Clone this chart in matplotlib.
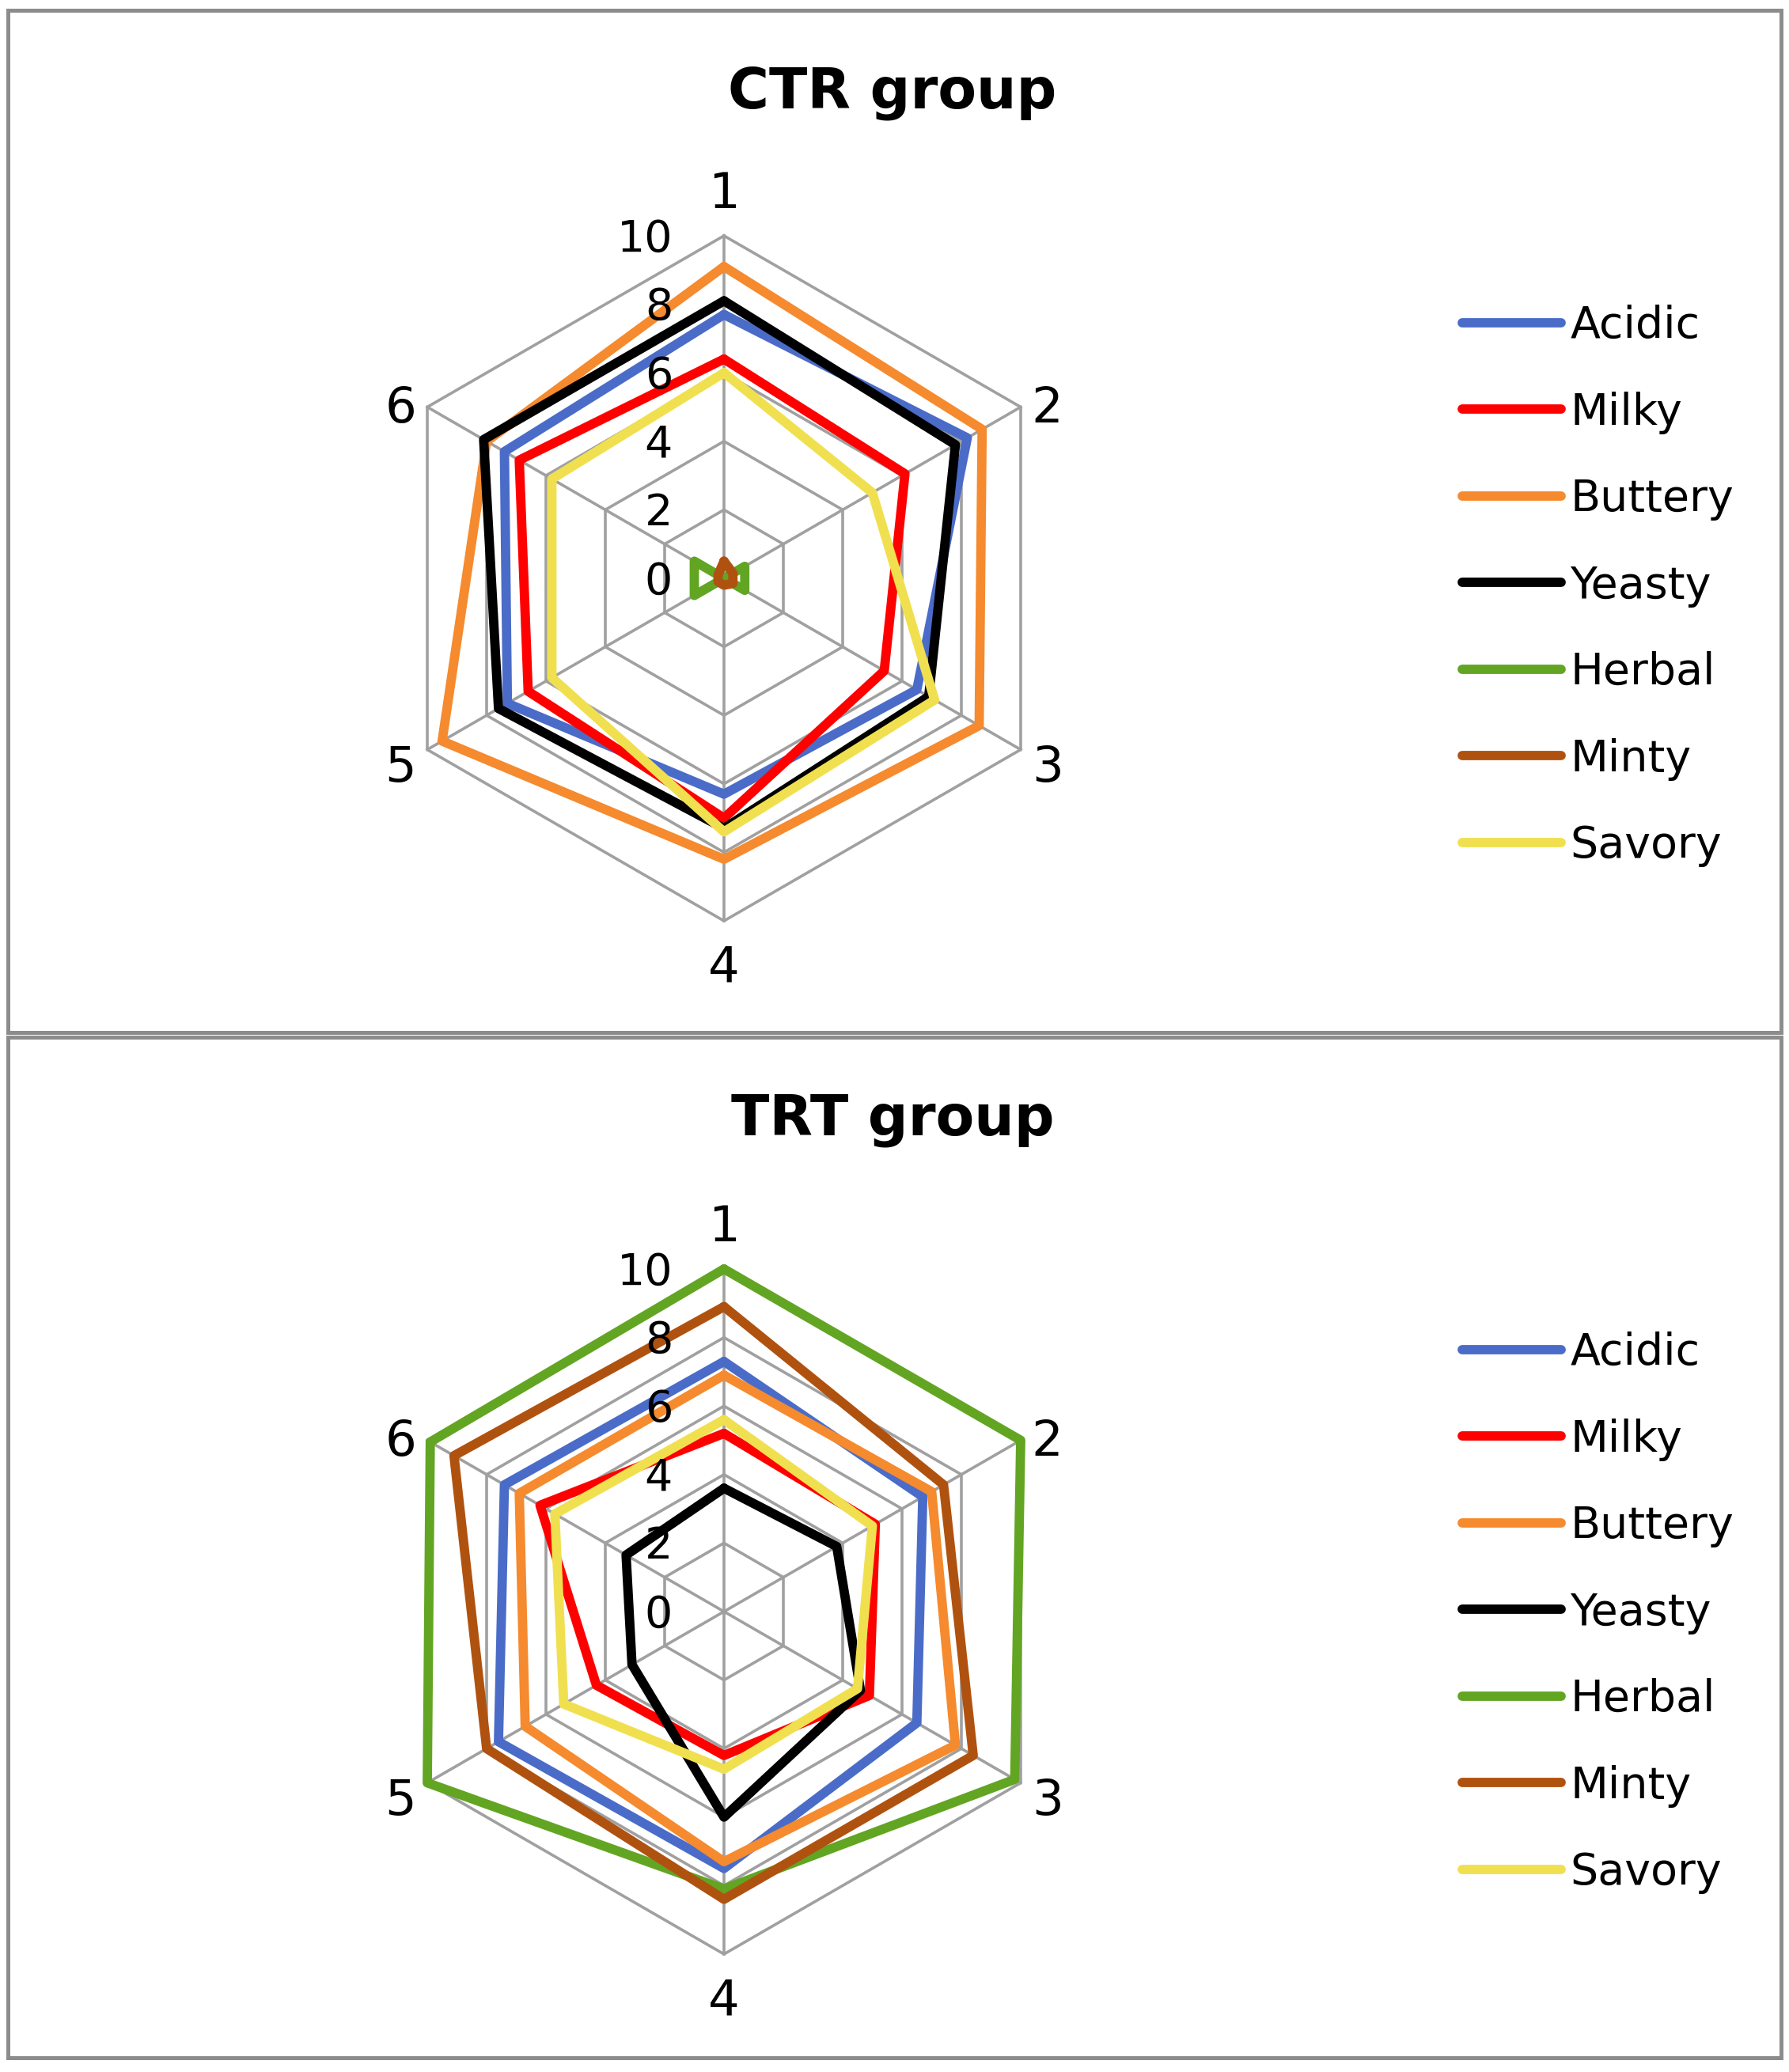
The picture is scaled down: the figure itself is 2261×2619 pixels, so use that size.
import numpy as np
import matplotlib
matplotlib.use('Agg')
import matplotlib.pyplot as plt
from matplotlib.patches import Rectangle

plt.rcParams['font.family'] = ['DejaVu Sans']

# 資料
axis_labels = ['1', '2', '3', '4', '5', '6']
series_names = ['Acidic', 'Milky', 'Buttery', 'Yeasty', 'Herbal', 'Minty', 'Savory']
series_colors = ['#4a6cc8', '#ff0000', '#f58a2e', '#000000', '#62a522', '#b0520f', '#f0e050']
r_ticks = [0, 2, 4, 6, 8, 10]

ctr_acidic = [7.7, 8.2, 6.5, 6.3, 7.3, 7.4]
ctr_milky = [6.4, 6.1, 5.4, 7.0, 6.6, 6.9]
ctr_buttery = [9.1, 8.7, 8.6, 8.2, 9.5, 8.0]
ctr_yeasty = [8.1, 7.8, 6.9, 7.3, 7.6, 8.1]
ctr_herbal = [0.0, 0.7, 0.7, 0.0, 1.0, 1.0]
ctr_minty = [0.5, 0.3, 0.3, 0.2, 0.2, 0.2]
ctr_savory = [6.0, 5.0, 7.1, 7.4, 5.8, 5.8]

trt_acidic = [7.3, 6.7, 6.5, 7.5, 7.6, 7.4]
trt_milky = [5.2, 5.1, 4.9, 4.2, 4.3, 6.2]
trt_buttery = [6.9, 7.0, 7.8, 7.3, 6.7, 6.9]
trt_yeasty = [3.6, 3.8, 4.6, 6.0, 3.1, 3.3]
trt_herbal = [10.0, 10.0, 9.8, 8.1, 10.0, 9.9]
trt_minty = [8.9, 7.4, 8.4, 8.4, 8.0, 9.1]
trt_savory = [5.6, 5.0, 4.5, 4.6, 5.4, 5.7]

groups = [
    ('CTR group', [ctr_acidic, ctr_milky, ctr_buttery, ctr_yeasty, ctr_herbal, ctr_minty, ctr_savory]),
    ('TRT group', [trt_acidic, trt_milky, trt_buttery, trt_yeasty, trt_herbal, trt_minty, trt_savory]),
]

W, H = 2261, 2619
fig = plt.figure(figsize=(W / 100, H / 100), dpi=100)

n = len(axis_labels)
ang = np.arange(n) * 2 * np.pi / n  # 由上方順時針


def xy(vals):
    v = np.asarray(vals, dtype=float)
    v = np.append(v, v[0])
    a = np.append(ang, ang[0])
    return v * np.sin(a), v * np.cos(a)


# 每個面板: 中心 (px), 半徑 433px = 10
centers_y = [731, 2037]
panel_top = [13, 1311]
panel_bot = [1305, 2601]
lim = 12.5
unit = 43.3
size_px = 2 * lim * unit

for k, (title, data) in enumerate(groups):
    cx, cy = 915, centers_y[k]
    ax = fig.add_axes([(cx - size_px / 2) / W, 1 - (cy + size_px / 2) / H, size_px / W, size_px / H])
    ax.set_xlim(-lim, lim)
    ax.set_ylim(-lim, lim)
    ax.axis('off')

    # 格線
    for r in r_ticks[1:]:
        gx, gy = xy([r] * n)
        ax.plot(gx, gy, color='#a0a0a0', lw=2.6, zorder=1)
    for a in ang:
        ax.plot([0, 10 * np.sin(a)], [0, 10 * np.cos(a)], color='#a0a0a0', lw=2.6, zorder=1)

    # 數列
    for name, vals, c in zip(series_names, data, series_colors):
        sx, sy = xy(vals)
        ax.plot(sx, sy, color=c, lw=8.5, solid_joinstyle='round', solid_capstyle='round',
                label=name, zorder=3)

    # 刻度標籤
    for r in r_ticks:
        ax.text(-1.5, r - 0.1, str(r), ha='right', va='center', fontsize=40, zorder=4)

    # 軸標籤
    for i, (a, lab) in enumerate(zip(ang, axis_labels)):
        if abs(np.cos(a)) > 0.99:
            lx, ly = 0, (11.2 if np.cos(a) > 0 else -11.4)
        else:
            lx, ly = 10.9 * np.sin(a), 10.5 * np.cos(a) - 0.3
        ax.text(lx, ly, lab, ha='center', va='center', fontsize=45)

    fig.text(1128 / W, 1 - (panel_top[k] + 124) / H, title, ha='center', va='baseline',
             fontsize=51, fontweight='bold')

    leg_top = panel_top[k] + 372
    ax.legend(loc='upper left', bbox_to_anchor=(1848 / W, 1 - leg_top / H),
              bbox_transform=fig.transFigure, frameon=False, fontsize=40,
              handlelength=2.25, handletextpad=0.2, labelspacing=1.0,
              borderpad=0, borderaxespad=0)

    fig.add_artist(Rectangle((10 / W, 1 - panel_bot[k] / H), (2251 - 10) / W,
                             (panel_bot[k] - panel_top[k]) / H, transform=fig.transFigure,
                             fill=False, edgecolor='#8c8c8c', lw=3.6))

fig.savefig('out.png', dpi=100)
